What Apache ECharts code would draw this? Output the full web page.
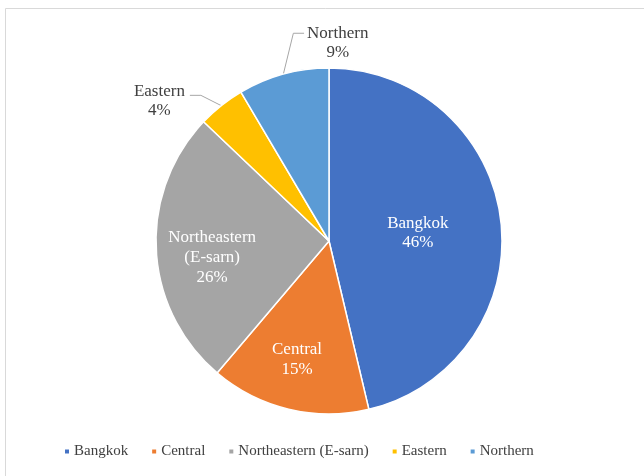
<!DOCTYPE html>
<html><head><meta charset="utf-8">
<script src="https://cdn.jsdelivr.net/npm/echarts@6/dist/echarts.min.js"></script>
<style>html,body{margin:0;padding:0;background:#fff}#c{width:644px;height:476px}</style>
</head><body><div id="c"></div>
<script>
const categories = ['Bangkok', 'Central', 'Northeastern (E-sarn)', 'Eastern', 'Northern'];
const values = [46.3, 14.9, 25.9, 4.4, 8.5];
const colors = ['#4472C4', '#ED7D31', '#A5A5A5', '#FFC000', '#5B9BD5'];
const labelMode = ['inside', 'far', 'far', 'outside', 'outside'];

const FONT = '"Liberation Serif", "Times New Roman", serif';
const fmt = p => p.name.replace(' (', '\n(') + '\n' + Math.round(p.percent) + '%';

const mainData = categories.map((n, i) => {
  const d = { name: n, value: values[i], itemStyle: { color: colors[i] } };
  if (labelMode[i] === 'inside') {
    d.label = { show: true, position: 'inside', color: '#fff' };
  } else if (labelMode[i] === 'outside') {
    d.label = { show: true, position: 'outside', color: '#404040' };
    d.labelLine = { show: true };
  } else {
    d.label = { show: false };
  }
  return d;
});
const farData = categories.map((n, i) => ({
  name: n, value: values[i],
  itemStyle: { color: 'rgba(0,0,0,0)', borderWidth: 0 },
  label: { show: labelMode[i] === 'far', position: 'inside', color: '#fff' }
}));

function outsideLayout(p) {
  const r = p.rect, lr = p.labelRect;
  const start = (p.labelLinePoints && p.labelLinePoints[0]) || [r.x + r.width / 2, r.y];
  if (p.dataIndex === 4) { // Northern: above, to the right of the slice
    const cx = r.x + r.width + 8, cy = r.y - 24;
    const left = cx - lr.width / 2, ly = cy - 10;
    return { x: cx, y: cy, align: 'center', verticalAlign: 'middle',
      labelLinePoints: [start, [start[0] + 10, ly], [left - 3, ly]] };
  }
  if (p.dataIndex === 3) { // Eastern: to the left
    const right = r.x - 18, cx = right - lr.width / 2, cy = r.y + 10;
    const ly = cy - 6;
    return { x: cx, y: cy, align: 'center', verticalAlign: 'middle',
      labelLinePoints: [start, [right + 16, ly], [right + 5, ly]] };
  }
  if (p.dataIndex === 0) return { dy: 2 };
  return {};
}

function farLayout(p) {
  if (p.dataIndex === 2) return { dx: 7, dy: 10 };
  if (p.dataIndex === 1) return { dx: -3, dy: -2 };
  return {};
}

const chart = echarts.init(document.getElementById('c'), null, { renderer: 'canvas' });
chart.setOption({
  animation: false,
  graphic: [{ type: 'rect', shape: { x: 5.5, y: 8.5, width: 660, height: 480 }, style: { fill: 'none', stroke: '#d9d9d9', lineWidth: 1 }, silent: true }],
  legend: {
    data: categories,
    left: 58, top: 439,
    icon: 'rect', itemWidth: 6, itemHeight: 6, itemGap: 22,
    textStyle: { fontFamily: FONT, fontSize: 15, color: '#404040', padding: [0, 0, 0, -1] }
  },
  series: [
    {
      type: 'pie', center: [329, 241], radius: [0, 173], startAngle: 90, clockwise: true,
      avoidLabelOverlap: false,
      itemStyle: { borderColor: '#fff', borderWidth: 1.5 },
      label: { fontFamily: FONT, fontSize: 17, lineHeight: 19, formatter: fmt },
      labelLine: { length: 14, length2: 10, lineStyle: { color: '#a6a6a6', width: 1 } },
      labelLayout: outsideLayout,
      data: mainData
    },
    {
      type: 'pie', center: [329, 241], radius: [0, 242], startAngle: 90, clockwise: true,
      silent: true, z: 5,
      label: { fontFamily: FONT, fontSize: 17, lineHeight: 20, formatter: fmt },
      labelLine: { show: false },
      labelLayout: farLayout,
      data: farData
    }
  ]
});
</script></body></html>
